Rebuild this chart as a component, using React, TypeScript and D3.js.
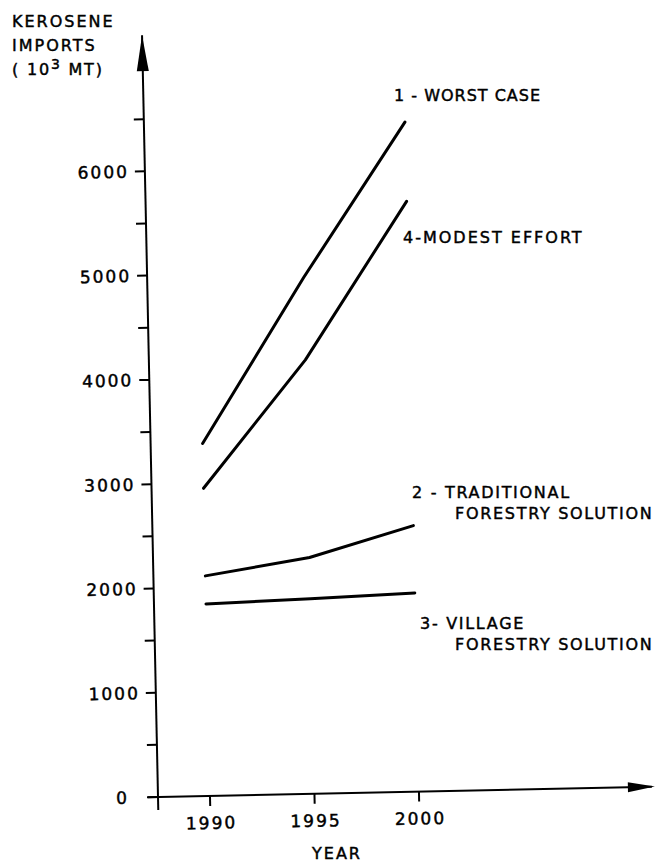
import React from "react";
import * as d3 from "d3";

const years = [1990, 1995, 2000];
const worstCase = [3380, 4950, 6420];
const modestEffort = [2950, 4160, 5660];
const traditionalForestry = [2110, 2265, 2550];
const villageForestry = [1840, 1870, 1905];
const seriesList = [worstCase, modestEffort, traditionalForestry, villageForestry];

const yMajorTicks = [0, 1000, 2000, 3000, 4000, 5000, 6000];
const yMinorTicks = [500, 1500, 2500, 3500, 4500, 5500, 6500];
const xTicks = [1990, 1995, 2000];

const yTitle = ["KEROSENE", "IMPORTS"];
const seriesLabels = [
  { lines: ["1 - WORST CASE"], x: 394, x2: 394, y: 101, ls: 1 },
  { lines: ["4-MODEST EFFORT"], x: 403, x2: 403, y: 243, ls: 2 },
  { lines: ["2 - TRADITIONAL", "FORESTRY SOLUTION"], x: 412, x2: 455, y: 498, ls: 1.7 },
  { lines: ["3- VILLAGE", "FORESTRY SOLUTION"], x: 420, x2: 455, y: 629, ls: 1.7 },
];

const FONT = "'DejaVu Sans', Verdana, sans-serif";

export default function App() {
  const ox = 158;
  const oy = 797;
  const y = d3.scaleLinear().domain([0, 6000]).range([oy, oy - 6 * 104.3]);
  const x = d3.scaleLinear().domain([1990, 2000]).range([210, 419]);
  const line = d3
    .line<number>()
    .x((_, i) => x(years[i]))
    .y((d) => y(d));

  const yTop = y.invert(35);
  const textStroke = { stroke: "#000", strokeWidth: 0.45 };

  return (
    <svg
      width={656}
      height={865}
      style={{ position: "absolute", left: 0, top: 0, display: "block", background: "#fff" }}
      fontFamily={FONT}
    >
      <rect x={0} y={0} width={656} height={865} fill="#fff" />
      <g transform={`rotate(-1.2 ${ox} ${oy})`}>
        {/* y axis */}
        <line x1={ox} x2={ox} y1={oy + 13} y2={y(yTop)} stroke="#000" strokeWidth={2} />
        <path
          d={`M${ox},${y(yTop)} L${ox - 6},${y(yTop) + 36} L${ox + 6},${y(yTop) + 36} Z`}
          fill="#000"
        />
        {/* x axis */}
        <line x1={ox - 11} x2={652} y1={oy} y2={oy} stroke="#000" strokeWidth={2} />
        <path d={`M655,${oy} L628,${oy - 5} L628,${oy + 5} Z`} fill="#000" />
        {yMajorTicks.concat(yMinorTicks).map((t) => (
          <line key={"yt" + t} x1={ox - 10} x2={ox} y1={y(t)} y2={y(t)} stroke="#000" strokeWidth={2} />
        ))}
        {yMajorTicks.map((t) => (
          <text
            key={"yl" + t}
            x={t === 0 ? ox - 29 : ox - 16}
            y={y(t)}
            dy="0.36em"
            textAnchor="end"
            fontSize={17}
            letterSpacing={2}
            {...textStroke}
          >
            {t}
          </text>
        ))}
        {xTicks.map((t) => (
          <g key={"xt" + t}>
            <line x1={x(t)} x2={x(t)} y1={oy} y2={oy + 10} stroke="#000" strokeWidth={2} />
            <text
              x={x(t) + 1}
              y={oy + 33}
              textAnchor="middle"
              fontSize={17}
              letterSpacing={2}
              {...textStroke}
            >
              {t}
            </text>
          </g>
        ))}
        {seriesList.map((s, i) => (
          <path
            key={"s" + i}
            d={line(s) || ""}
            fill="none"
            stroke="#000"
            strokeWidth={3}
            strokeLinecap="round"
            strokeLinejoin="round"
          />
        ))}
      </g>
      <text x={337} y={859} textAnchor="middle" fontSize={16} letterSpacing={2} {...textStroke}>
        YEAR
      </text>
      {yTitle.map((t, i) => (
        <text key={t} x={12} y={27 + i * 24} fontSize={16} letterSpacing={2} {...textStroke}>
          {t}
        </text>
      ))}
      <text x={12} y={75} fontSize={16} letterSpacing={1.8} {...textStroke}>
        {"( 10"}
        <tspan dy={-6} fontSize={14}>
          3
        </tspan>
        <tspan dy={6}>{" MT)"}</tspan>
      </text>
      {seriesLabels.map((lab, i) => (
        <text key={"lab" + i} y={lab.y} fontSize={16} letterSpacing={lab.ls} {...textStroke}>
          {lab.lines.map((l, j) => (
            <tspan key={j} x={j === 0 ? lab.x : lab.x2} dy={j === 0 ? 0 : 21}>
              {l}
            </tspan>
          ))}
        </text>
      ))}
    </svg>
  );
}
